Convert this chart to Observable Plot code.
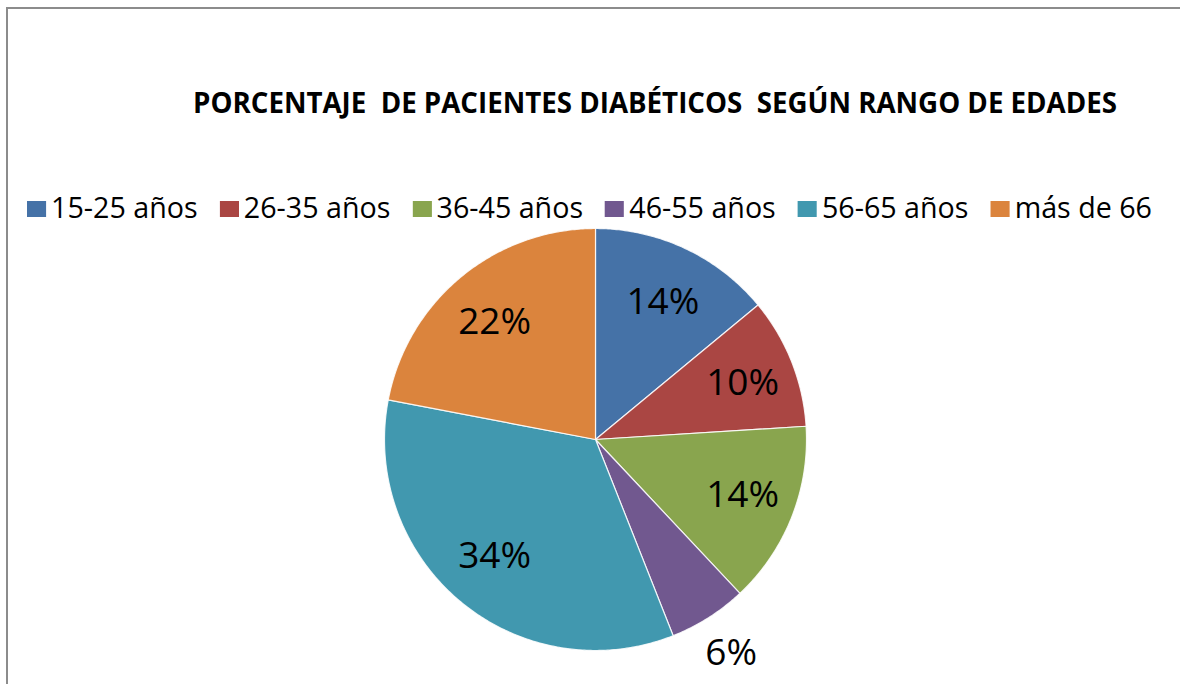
<!DOCTYPE html>
<html>
<head>
<meta charset="utf-8">
<script src="https://cdn.jsdelivr.net/npm/d3@7"></script>
<script src="https://cdn.jsdelivr.net/npm/@observablehq/plot@0.6"></script>
<style>
  html, body { margin: 0; padding: 0; background: #fff; }
  body { width: 1180px; height: 684px; position: relative; overflow: hidden; font-family: "Open Sans", sans-serif; color: #000; }
  #frame { position: absolute; left: 6px; top: 7px; width: 1400px; height: 900px; border: 2px solid #8c8c8c; box-sizing: border-box; }
  #title { position: absolute; left: 193px; top: 87px; font-size: 29px; line-height: 29px; font-weight: 700; white-space: pre; transform-origin: left top; }
  #legend { position: absolute; left: 27px; top: 193px; display: flex; align-items: center; font-size: 28.5px; line-height: 28.5px; white-space: pre; transform-origin: left top; }
  .item { display: flex; align-items: center; margin-right: 22px; }
  .sw { width: 19px; height: 16px; margin-right: 5px; margin-top: 3px; }
  #chart { position: absolute; left: 0; top: 225px; }
</style>
</head>
<body>
<div id="frame"></div>
<div id="title"></div>
<div id="legend"></div>
<div id="chart"></div>
<script>
const titleText = "PORCENTAJE  DE PACIENTES DIABÉTICOS  SEGÚN RANGO DE EDADES";
const categories = ["15-25 años", "26-35 años", "36-45 años", "46-55 años", "56-65 años", "más de 66"];
const values = [14, 10, 14, 6, 34, 22];
const colors = ["#4572A7", "#AA4643", "#89A54E", "#71588F", "#4198AF", "#DB843D"];
const labels = values.map(v => v + "%");

// Title
const t = document.getElementById("title");
t.textContent = titleText;
const tw = t.getBoundingClientRect().width;
t.style.transform = `scaleX(${924 / tw})`;

// Legend
const lg = document.getElementById("legend");
categories.forEach((c, i) => {
  const it = document.createElement("div");
  it.className = "item";
  const sw = document.createElement("div");
  sw.className = "sw";
  sw.style.background = colors[i];
  const tx = document.createElement("span");
  tx.textContent = c;
  it.appendChild(sw); it.appendChild(tx);
  lg.appendChild(it);
});
// fit legend row to the reference span (27 → 1152)
const lw = lg.getBoundingClientRect().width - 22;
lg.style.transform = `scaleX(${1125 / lw})`;

// Pie geometry
const W = 1180, H = 459;
const cx = 595, cy = 439 - 225, R = 211;
const arcs = d3.pie().sort(null).value(d => d)(values);
const slicePts = [];
arcs.forEach((a, i) => {
  const n = Math.max(4, Math.ceil((a.endAngle - a.startAngle) / 0.01));
  slicePts.push({cat: categories[i], x: 0, y: 0});
  for (let k = 0; k <= n; k++) {
    const ang = a.startAngle + (a.endAngle - a.startAngle) * k / n;
    slicePts.push({cat: categories[i], x: Math.sin(ang), y: Math.cos(ang)});
  }
  slicePts.push({cat: categories[i], x: 0, y: 0});
});
const labelPts = arcs.map((a, i) => {
  const mid = (a.startAngle + a.endAngle) / 2;
  const outside = values[i] < 8;
  const f = outside ? 1.2 : 0.75;
  return {cat: categories[i], label: labels[i], x: f * Math.sin(mid), y: f * Math.cos(mid) * (outside ? 1 : 0.96)};
});

const plot = Plot.plot({
  width: W, height: H,
  margin: 0,
  style: {background: "transparent", overflow: "visible"},
  x: {type: "linear", domain: [-1, 1], range: [cx - R, cx + R], axis: null},
  y: {type: "linear", domain: [-1, 1], range: [cy + R, cy - R], axis: null},
  color: {domain: categories, range: colors},
  marks: [
    Plot.line(slicePts, {x: "x", y: "y", z: "cat", fill: "cat", stroke: "#ffffff", strokeWidth: 1.2, strokeOpacity: 0.85, curve: "linear"}),
    Plot.text(labelPts, {x: "x", y: "y", text: "label", fontSize: 37, fill: "#000", fontFamily: "Open Sans", textAnchor: "middle"})
  ]
});
document.getElementById("chart").appendChild(plot);
</script>
</body>
</html>
